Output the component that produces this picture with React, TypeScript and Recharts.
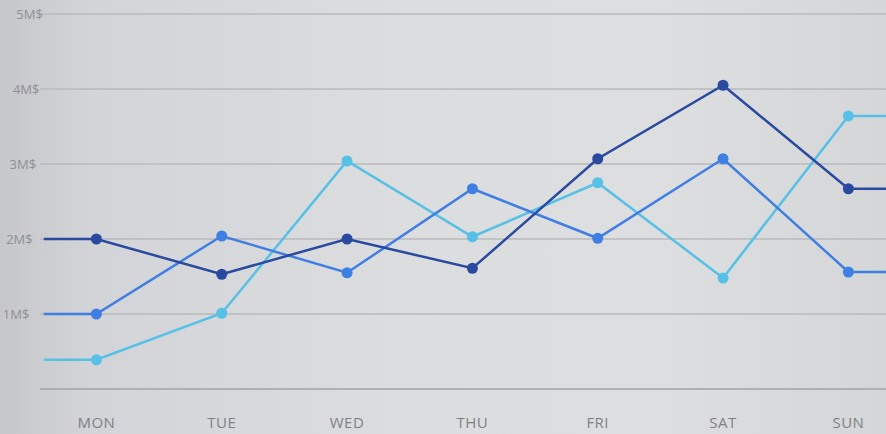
import React from 'react';
import { LineChart, Line, XAxis, YAxis, CartesianGrid } from 'recharts';

const days = ['MON', 'TUE', 'WED', 'THU', 'FRI', 'SAT', 'SUN'];
const navySeries = [2.0, 1.53, 2.0, 1.61, 3.07, 4.05, 2.67];
const blueSeries = [1.0, 2.04, 1.55, 2.67, 2.01, 3.07, 1.56];
const cyanSeries = [0.39, 1.01, 3.04, 2.03, 2.75, 1.48, 3.64];
const yTicks = [0, 1, 2, 3, 4, 5];
const yTickLabels = ['', '1M$', '2M$', '3M$', '4M$', '5M$'];
const leadIn = -0.42;
const leadOut = 6.3;

const rows = [
  { x: leadIn, day: '', navy: navySeries[0], blue: blueSeries[0], cyan: cyanSeries[0] },
  ...days.map((d, i) => ({ x: i, day: d, navy: navySeries[i], blue: blueSeries[i], cyan: cyanSeries[i] })),
  {
    x: leadOut,
    day: '',
    navy: navySeries[days.length - 1],
    blue: blueSeries[days.length - 1],
    cyan: cyanSeries[days.length - 1],
  },
];

const makeDot = (color: string) => (props: any) => {
  const { cx, cy, payload, index } = props;
  if (!payload || !payload.day) return <g key={`e-${index}`} />;
  return <circle key={`d-${index}`} cx={cx} cy={cy} r={5.5} fill={color} stroke="none" />;
};

const YTick = (props: any) => {
  const { y, payload } = props;
  const label = yTickLabels[yTicks.indexOf(payload.value)] || '';
  const right = 26 + (389 - y) * 0.045;
  return (
    <text x={right} y={y} dy={4.5} textAnchor="end" fill="#8d9095" fontSize={13} fontFamily="'Open Sans', sans-serif">
      {label}
    </text>
  );
};

const XTick = (props: any) => {
  const { x, y, payload } = props;
  return (
    <text x={x} y={y} dy={31} textAnchor="middle" fill="#7d8186" fontSize={15} letterSpacing={0.5} fontFamily="'Open Sans', sans-serif">
      {days[payload.value]}
    </text>
  );
};

export default function App() {
  return (
    <div
      style={{
        position: 'absolute',
        left: 0,
        top: 0,
        width: 886,
        height: 434,
        background: 'linear-gradient(90deg, #c6c7ca 0%, #d3d4d7 10%, #dcdddf 45%, #dddee0 75%, #d5d6d8 100%)',
        overflow: 'hidden',
      }}
    >
      <LineChart width={886} height={434} data={rows} margin={{ top: 14, right: 0, bottom: 0, left: 0 }}>
        <CartesianGrid vertical={false} stroke="#b8babd" strokeWidth={1.5} />
        <XAxis
          type="number"
          dataKey="x"
          domain={[-0.45, 6.3]}
          ticks={[0, 1, 2, 3, 4, 5, 6]}
          allowDataOverflow
          height={45}
          tickLine={false}
          axisLine={{ stroke: '#a8aaad', strokeWidth: 1.5 }}
          tick={<XTick />}
        />
        <YAxis
          type="number"
          domain={[0, 5]}
          ticks={yTicks}
          width={40}
          axisLine={false}
          tickLine={false}
          tick={<YTick />}
        />
        <Line type="linear" dataKey="cyan" stroke="#57c0e6" strokeWidth={2.5} dot={makeDot('#57c0e6')} activeDot={false} isAnimationActive={false} />
        <Line type="linear" dataKey="blue" stroke="#3f7ee3" strokeWidth={2.5} dot={makeDot('#3f7ee3')} activeDot={false} isAnimationActive={false} />
        <Line type="linear" dataKey="navy" stroke="#2a4aa0" strokeWidth={2.5} dot={makeDot('#2a4aa0')} activeDot={false} isAnimationActive={false} />
      </LineChart>
    </div>
  );
}
